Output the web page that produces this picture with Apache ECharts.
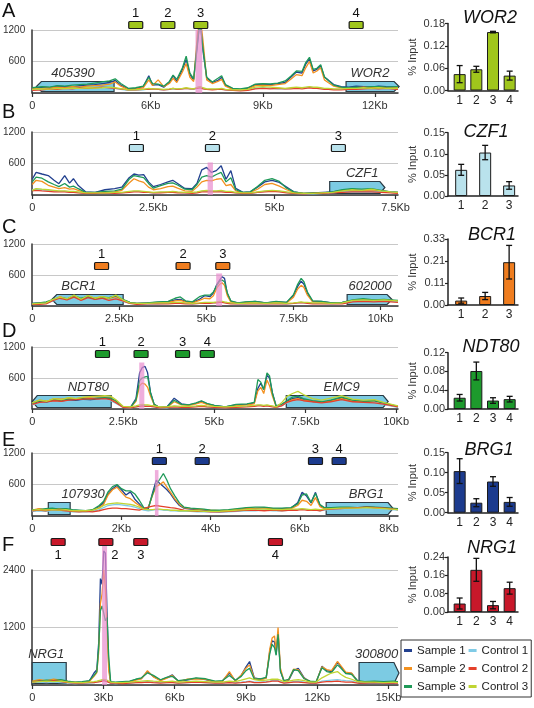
<!DOCTYPE html>
<html><head><meta charset="utf-8">
<script src="https://cdn.jsdelivr.net/npm/echarts@6/dist/echarts.min.js"></script>
<style>html,body{margin:0;padding:0;background:#fff}#c{width:534px;height:708px}</style>
</head><body><div id="c"></div>
<script>
// ---------- DATA ----------
// trace rows: [position kb, Sample 1, Sample 2, Sample 3, Control 1, Control 2, Control 3]
const tracesA = [
[2.83,90,80,100,60,50,70],[3.1,110,90,120,70,60,80],[3.3,100,100,110,65,80,75],[3.5,130,110,140,80,70,90],
[3.7,120,100,130,70,90,85],[3.9,110,120,150,75,80,95],[4.1,140,110,160,80,100,90],[4.3,150,130,170,85,90,100],
[4.5,160,140,190,80,100,95],[4.7,180,150,210,90,110,100],[4.9,200,170,230,95,100,110],[5.05,240,210,270,90,90,100],
[5.2,150,130,180,70,80,85],[5.4,80,70,90,50,60,60],[5.6,90,80,100,55,60,65],[5.8,120,100,130,60,70,70],
[5.95,330,250,300,80,70,90],[6.05,150,140,180,70,80,80],[6.2,160,250,170,70,70,80],[6.35,110,120,130,60,60,70],
[6.5,200,180,220,70,70,80],[6.6,330,280,340,80,90,90],[6.7,220,200,260,70,70,80],[6.85,450,400,480,80,80,90],
[6.95,640,560,700,90,90,100],[7.05,350,300,380,80,80,90],[7.15,250,220,270,70,80,80],[7.25,900,1100,950,100,90,110],
[7.32,1400,1500,1400,120,100,120],[7.4,800,1000,850,90,80,100],[7.5,280,250,300,70,70,80],[7.65,200,180,210,70,60,80],
[7.8,240,220,280,70,70,80],[7.9,300,260,330,80,70,90],[8.0,150,130,160,60,60,70],[8.2,80,70,90,50,50,60],
[8.4,70,60,80,50,40,60],[8.6,90,80,100,60,50,70],[8.8,160,140,170,90,80,110],[9.0,170,150,180,100,90,120],
[9.2,160,140,175,90,80,110],[9.4,180,160,190,80,90,100],[9.6,200,180,230,80,80,90],[9.75,300,260,320,90,80,100],
[9.9,400,350,420,100,90,110],[10.05,380,330,410,90,80,100],[10.15,550,480,580,100,90,110],[10.25,650,600,680,110,100,120],
[10.35,420,380,450,100,90,110],[10.45,450,420,470,100,90,110],[10.55,520,480,540,90,80,100],[10.65,300,250,310,80,70,90],
[10.75,250,200,240,80,70,90],[10.9,160,130,150,70,60,80],[11.1,120,100,110,70,60,80],[11.3,110,90,100,80,70,90],
[11.5,130,100,110,80,70,90],[11.7,120,110,100,90,80,100],[11.9,110,100,120,80,90,90],[12.1,130,110,120,90,80,100],
[12.3,120,100,110,80,90,90],[12.62,110,100,120,80,70,90]
];
const tracesB = [
[0,300,200,250,100,80,90],[0.08,430,280,340,110,90,120],[0.2,400,260,320,100,80,110],[0.33,370,185,250,90,70,100],
[0.45,280,150,200,80,60,90],[0.55,215,120,160,70,60,80],[0.67,370,140,220,70,60,80],[0.77,225,110,150,60,50,70],
[0.85,310,120,170,60,50,70],[0.95,180,90,120,50,40,60],[1.1,60,40,50,30,30,40],[1.3,50,40,50,30,30,40],
[1.5,100,50,70,30,40,40],[1.7,120,60,80,40,30,50],[1.85,150,90,110,40,40,50],[2.0,330,230,300,60,50,70],
[2.1,400,310,370,70,60,80],[2.2,380,270,350,70,60,80],[2.3,390,240,330,60,50,70],[2.4,250,150,220,50,50,60],
[2.5,160,100,130,40,40,50],[2.65,200,120,180,50,40,60],[2.8,250,160,220,50,50,60],[2.9,280,170,230,60,50,70],
[3.0,220,130,190,50,40,60],[3.15,125,80,110,40,40,50],[3.3,120,70,100,40,30,50],[3.4,220,150,200,50,40,60],
[3.5,480,250,340,70,60,80],[3.6,525,280,370,80,60,90],[3.7,430,270,340,70,60,80],[3.8,465,300,390,70,60,80],
[3.9,557,310,430,80,60,90],[4.0,300,180,250,60,50,70],[4.1,465,200,330,60,50,70],[4.2,125,80,100,40,40,50],
[4.35,50,40,50,30,30,40],[4.5,60,50,60,30,30,40],[4.65,150,110,160,50,50,60],[4.8,250,200,280,70,60,80],
[4.95,280,220,310,80,70,90],[5.1,240,170,260,70,60,80],[5.25,150,100,130,50,40,60],[5.4,60,50,60,30,30,40],
[5.6,30,30,30,20,20,30],[5.8,40,30,40,20,30,30],[6.0,50,40,40,30,30,40],[6.2,60,50,60,40,40,50],
[6.4,90,70,100,60,50,80],[6.6,110,90,120,70,60,100],[6.8,90,80,110,60,60,90],[7.0,100,90,120,70,60,110],
[7.2,80,70,90,60,50,80],[7.4,60,50,60,50,40,60],[7.55,50,40,50,40,30,50]
];
const tracesC = [
[0,50,40,50,30,30,40],[0.2,60,50,60,40,30,50],[0.4,70,60,80,50,40,60],[0.6,110,120,130,100,110,130],
[0.8,150,180,160,140,150,170],[1.0,120,130,140,110,120,140],[1.2,180,190,200,160,170,210],[1.4,130,120,150,100,110,130],
[1.6,170,200,180,150,160,200],[1.8,120,150,140,110,130,150],[2.0,160,180,170,130,150,180],[2.2,140,130,160,120,110,150],
[2.4,180,170,200,150,140,210],[2.6,120,110,130,90,100,120],[2.8,70,60,70,50,50,60],[3.0,50,40,50,40,30,50],
[3.3,60,50,60,40,40,50],[3.6,70,60,80,40,40,60],[3.9,80,70,90,50,40,60],[4.1,120,100,150,50,50,70],
[4.25,130,110,175,60,50,70],[4.4,90,80,100,50,40,60],[4.6,70,60,80,40,40,50],[4.8,130,110,180,50,50,60],
[4.95,200,150,210,60,50,70],[5.1,180,140,210,60,50,70],[5.2,250,200,270,60,60,70],[5.3,420,350,400,70,60,80],
[5.38,500,420,480,80,70,90],[5.45,567,450,500,80,70,90],[5.52,535,400,470,70,60,80],[5.6,240,200,250,60,50,70],
[5.7,90,80,100,50,40,60],[5.9,60,50,60,40,40,50],[6.1,70,60,80,40,40,50],[6.4,90,70,90,50,40,60],
[6.7,60,50,60,40,40,50],[7.0,80,70,90,50,40,60],[7.3,70,60,70,40,40,50],[7.5,200,170,220,50,50,60],
[7.62,380,330,420,60,60,70],[7.72,480,400,535,70,60,80],[7.8,420,360,470,60,60,70],[7.9,250,210,270,60,50,70],
[8.05,90,80,100,50,40,60],[8.3,90,70,90,50,40,60],[8.6,60,50,60,40,40,50],[8.9,70,60,70,50,40,60],
[9.2,110,100,120,90,80,110],[9.5,130,120,140,100,90,120],[9.8,110,100,120,90,80,110],[10.1,120,110,130,100,90,120],
[10.5,100,90,110,80,70,100]
];
const tracesD = [
[0,100,120,110,80,90,120],[0.2,150,170,160,120,130,170],[0.4,130,150,140,110,140,150],[0.6,180,200,170,140,160,200],
[0.8,150,190,160,130,150,180],[1.0,170,210,190,150,170,220],[1.2,160,200,180,140,180,200],[1.4,180,220,200,160,190,230],
[1.6,170,230,190,150,200,240],[1.8,200,240,210,160,190,250],[2.0,210,230,220,170,200,260],[2.15,200,220,210,160,180,250],
[2.3,150,140,160,110,120,180],[2.5,40,30,40,30,30,50],[2.7,30,30,30,20,20,40],[2.85,200,150,170,40,40,60],
[2.95,700,450,550,60,50,80],[3.02,800,500,600,70,60,90],[3.1,825,480,620,60,50,80],[3.17,700,420,630,60,50,80],
[3.25,320,250,310,50,50,70],[3.35,90,80,90,40,40,60],[3.5,30,30,30,20,20,40],[3.7,40,30,40,20,30,40],
[3.9,210,140,170,50,40,60],[4.1,100,80,90,40,30,50],[4.3,80,70,80,40,30,50],[4.5,110,100,120,50,40,60],
[4.65,150,130,160,60,50,70],[4.8,100,90,110,40,40,60],[5.0,70,60,70,30,30,50],[5.3,40,30,40,20,20,40],
[5.6,80,60,90,40,30,50],[5.9,90,80,100,50,40,60],[6.1,120,100,130,60,50,70],[6.2,400,350,570,70,60,80],
[6.28,500,420,520,70,60,80],[6.36,380,300,375,60,50,70],[6.45,650,560,700,70,60,80],[6.52,600,450,640,60,50,70],
[6.6,310,250,300,50,40,60],[6.7,60,50,60,30,30,40],[6.85,80,70,90,60,60,120],[7.0,150,130,160,120,130,245],
[7.15,200,180,230,150,160,300],[7.3,220,200,250,170,180,340],[7.45,180,170,200,150,160,280],[7.7,140,150,160,120,140,200],
[7.95,120,130,140,110,120,170],[8.2,160,150,170,130,140,210],[8.5,210,200,230,160,180,260],[8.8,150,160,170,130,140,190],
[9.1,130,140,150,120,130,170],[9.4,150,140,160,130,120,180],[9.7,100,90,110,80,90,120],[10.05,50,40,50,30,40,60]
];
const tracesE = [
[0,100,110,120,90,100,110],[0.15,130,140,120,100,110,120],[0.3,110,120,140,90,100,110],[0.45,140,130,150,100,120,120],
[0.6,120,140,130,90,110,110],[0.75,130,120,140,100,100,120],[0.9,110,100,120,80,90,100],[1.05,100,90,110,80,80,100],
[1.2,90,100,100,80,90,100],[1.35,110,100,120,90,80,110],[1.5,180,160,200,120,100,150],[1.6,250,220,280,160,120,200],
[1.7,420,400,460,200,140,230],[1.8,520,500,560,210,150,240],[1.9,580,550,600,220,150,250],[2.0,500,450,520,210,140,240],
[2.1,400,360,480,200,140,230],[2.2,460,330,480,190,130,220],[2.3,320,260,420,170,120,200],[2.4,230,200,300,140,110,170],
[2.5,140,130,160,110,140,130],[2.6,130,160,150,100,170,120],[2.7,450,400,420,110,190,120],[2.78,680,560,600,120,200,130],
[2.86,620,600,700,120,190,130],[2.94,560,650,810,110,180,120],[3.02,500,550,680,110,170,120],[3.1,420,450,520,100,160,110],
[3.2,300,320,380,100,150,110],[3.3,200,220,250,90,130,100],[3.4,150,160,170,90,110,100],[3.55,130,140,150,90,100,100],
[3.7,120,130,140,80,90,100],[3.85,110,120,130,80,90,90],[4.0,100,110,110,80,80,90],[4.2,90,100,110,70,80,90],
[4.4,100,110,120,80,90,100],[4.6,120,130,140,90,100,110],[4.8,150,140,160,100,110,120],[5.0,140,150,170,100,110,130],
[5.2,160,150,170,110,100,130],[5.4,130,140,150,100,110,120],[5.6,140,130,150,100,100,120],[5.8,150,140,160,110,110,130],
[5.95,250,200,230,120,110,130],[6.05,450,300,400,130,120,140],[6.15,380,280,420,120,110,130],[6.25,250,200,260,110,110,120],
[6.35,450,350,430,120,110,130],[6.45,200,180,220,100,100,120],[6.55,150,140,160,110,120,130],[6.7,140,150,160,120,130,140],
[6.9,150,140,170,130,140,150],[7.1,160,150,170,130,150,150],[7.3,150,160,160,140,160,150],[7.5,170,150,180,140,170,160],
[7.7,160,160,170,130,160,150],[7.9,150,140,160,130,150,140],[8.2,130,120,140,110,120,120]
];
const tracesF = [
[0,60,80,70,50,60,60],[0.3,90,110,80,60,80,70],[0.6,70,90,100,50,70,80],[0.9,100,120,90,60,90,70],
[1.2,80,100,110,50,70,80],[1.5,60,70,80,40,50,60],[1.8,50,60,60,30,40,50],[2.1,60,50,70,40,40,50],
[2.4,80,70,90,40,50,60],[2.6,250,180,200,50,50,70],[2.72,320,260,280,60,60,80],[2.8,900,700,800,70,60,90],
[2.87,2220,1700,1550,80,70,100],[2.94,2100,1900,1650,90,80,110],[3.01,2800,2400,1500,100,90,120],[3.08,2750,2000,1340,90,80,110],
[3.15,1500,1200,1410,80,70,100],[3.22,400,300,600,60,60,80],[3.3,60,50,70,40,40,60],[3.5,50,40,60,30,40,50],
[3.8,60,50,70,40,30,50],[4.1,70,60,80,40,40,60],[4.35,110,100,120,50,50,70],[4.6,140,130,150,60,50,80],
[4.85,280,300,250,70,60,90],[5.1,180,170,200,60,50,80],[5.4,100,90,110,50,40,70],[5.65,150,140,160,50,50,70],
[5.9,210,200,180,60,50,80],[6.15,80,70,90,40,40,60],[6.5,100,120,110,50,50,70],[6.9,140,130,150,60,60,80],
[7.3,110,120,130,50,50,70],[7.7,60,70,80,40,40,60],[8.0,80,70,90,40,40,60],[8.3,250,280,200,60,50,80],
[8.55,90,80,100,50,40,70],[8.8,200,210,180,60,50,100],[9.0,380,350,300,70,60,130],[9.15,490,420,350,80,70,150],
[9.35,150,140,120,60,50,110],[9.6,120,110,130,60,50,90],[9.85,150,140,160,70,60,100],[10.0,700,750,650,80,70,110],
[10.1,920,980,850,90,80,120],[10.2,900,1025,780,90,80,120],[10.27,640,700,620,80,70,110],[10.35,1100,1200,1060,90,80,120],
[10.45,300,350,280,70,60,100],[10.6,70,80,90,50,40,70],[10.8,100,110,120,50,50,80],[11.0,300,330,320,70,60,100],
[11.2,350,320,300,80,60,110],[11.45,150,140,130,60,50,90],[11.7,60,70,80,40,40,60],[11.95,50,60,70,40,40,60],
[12.2,390,380,360,80,60,150],[12.4,300,320,280,90,70,200],[12.6,280,300,260,100,70,250],[12.85,480,490,420,110,80,280],
[13.0,380,400,350,100,70,220],[13.2,250,270,240,90,60,160],[13.45,240,250,220,80,60,120],[13.7,80,70,90,50,40,70],
[14.0,60,70,70,40,40,60],[14.4,70,60,80,40,50,60],[14.8,60,70,70,40,40,50],[15.2,70,60,80,40,40,60],[15.4,60,50,70,40,40,50]
];

// x-axis tick positions (kb) and tick labels
const tickValsA = [2.83, 6, 9, 12],      tickTextA = ['0','6Kb','9Kb','12Kb'];
const tickValsB = [0, 2.5, 5, 7.5],      tickTextB = ['0','2.5Kb','5Kb','7.5Kb'];
const tickValsC = [0, 2.5, 5, 7.5, 10],  tickTextC = ['0','2.5Kb','5Kb','7.5Kb','10Kb'];
const tickValsD = [0, 2.5, 5, 7.5, 10],  tickTextD = ['0','2.5Kb','5Kb','7.5Kb','10Kb'];
const tickValsE = [0, 2, 4, 6, 8],       tickTextE = ['0','2Kb','4Kb','6Kb','8Kb'];
const tickValsF = [0, 3, 6, 9, 12, 15],  tickTextF = ['0','3Kb','6Kb','9Kb','12Kb','15Kb'];

// primer (amplicon) positions, kb
const primersA = [5.60, 6.46, 7.34, 11.5];
const primersB = [2.15, 3.72, 6.32];
const primersC = [1.99, 4.33, 5.47];
const primersD = [1.93, 2.99, 4.13, 4.81];
const primersE = [2.85, 3.81, 6.35, 6.88];
const primersF = [1.09, 3.10, 4.57, 10.24];

// genes: [name, start kb, end kb, strand (-1 left, 1 right, 0 none), label position kb]
const genesA = [['405390',2.94,5.02,-1,3.92],['WOR2',11.23,12.65,1,11.87]];
const genesB = [['CZF1',6.14,7.28,1,6.81]];
const genesC = [['BCR1',0.56,2.61,-1,1.33],['602000',9.04,10.33,1,9.7]];
const genesD = [['NDT80',0,2.17,-1,1.54],['EMC9',6.98,9.78,1,8.5]];
const genesE = [['107930',0.36,0.85,0,1.14],['BRG1',6.59,8.09,1,7.49]];
const genesF = [['NRG1',0,1.43,0,0.59],['300800',13.76,15.44,1,14.5]];

// motif highlight: [start kb, end kb, height]
const pinkA = [7.20, 7.38, 1200];
const pinkB = [3.62, 3.73, 620];
const pinkC = [5.28, 5.45, 630];
const pinkD = [2.94, 3.08, 900];
const pinkE = [2.75, 2.83, 875];
const pinkF = [2.94, 3.15, 2900];

// ChIP-qPCR % input, with error
const catsA = ['1','2','3','4'], barA = [0.044,0.057,0.157,0.040], errA = [0.023,0.008,0.002,0.012];
const catsB = ['1','2','3'],     barB = [0.062,0.103,0.025],       errB = [0.013,0.017,0.009];
const catsC = ['1','2','3'],     barC = [0.022,0.045,0.214],       errC = [0.013,0.018,0.084];
const catsD = ['1','2','3','4'], barD = [0.024,0.081,0.018,0.021], errD = [0.007,0.019,0.006,0.006];
const catsE = ['1','2','3','4'], barE = [0.104,0.025,0.078,0.027], errE = [0.031,0.010,0.012,0.011];
const catsF = ['1','2','3','4'], barF = [0.037,0.184,0.030,0.104], errF = [0.024,0.050,0.016,0.026];
const barMaxA = 0.18, barMaxB = 0.15, barMaxC = 0.33, barMaxD = 0.12, barMaxE = 0.15, barMaxF = 0.24;
const barTickTextC = ['0.00','0.11','0.21','0.33'];
const geneTitles = ['WOR2','CZF1','BCR1','NDT80','BRG1','NRG1'];
const panelLetters = ['A','B','C','D','E','F'];
const traceNames = ['Sample 1','Sample 2','Sample 3','Control 1','Control 2','Control 3'];

// ---------- LAYOUT / STYLE ----------
const FONT = '"Liberation Sans", Arial, sans-serif';
const traceColors = ['#22408f','#f3911f','#1f9a58','#80cbe6','#e4402b','#c0d532'];
const panelColors = ['#a0c61c','#b9e2ec','#ef7d1f','#1d9a2c','#1c3b8e','#c8182a'];
const lineGrids = [{t:30,h:63},{t:132,h:63},{t:244,h:62},{t:347,h:62},{t:453,h:63},{t:570,h:115}];
const barGrids = [{t:23.5,h:67},{t:132.7,h:63.3},{t:239,h:66},{t:352.7,h:56.3},{t:452.7,h:60},{t:557,h:55}];
const xRanges = [[2.83,12.62],[0,7.55],[0,10.5],[0,10.05],[0,8.2],[0,15.4]];
const yMaxes = [1200,1200,1200,1200,1200,2400];
const primerOffset = [-5,16,22,7,8,-28];   // px from grid top
const primerLabelBelow = [false,false,false,false,false,true];
const primerLabelShift = [[0,0,0,0],[0,0,0],[0,0,0],[0,0,0,0],[0,0,0,0],[0,9,0,0]];
const geneH = [10,12,10,12,12,21];
const letterY = [11,112,227,331,440,545];
const titlePos = [[490,18],[486,132],[492,235],[491,347],[489,450],[492,548]];

const P = [
 {rows:tracesA,tv:tickValsA,tt:tickTextA,pr:primersA,ge:genesA,pk:pinkA,cats:catsA,bar:barA,err:errA,bmax:barMaxA},
 {rows:tracesB,tv:tickValsB,tt:tickTextB,pr:primersB,ge:genesB,pk:pinkB,cats:catsB,bar:barB,err:errB,bmax:barMaxB},
 {rows:tracesC,tv:tickValsC,tt:tickTextC,pr:primersC,ge:genesC,pk:pinkC,cats:catsC,bar:barC,err:errC,bmax:barMaxC},
 {rows:tracesD,tv:tickValsD,tt:tickTextD,pr:primersD,ge:genesD,pk:pinkD,cats:catsD,bar:barD,err:errD,bmax:barMaxD},
 {rows:tracesE,tv:tickValsE,tt:tickTextE,pr:primersE,ge:genesE,pk:pinkE,cats:catsE,bar:barE,err:errE,bmax:barMaxE},
 {rows:tracesF,tv:tickValsF,tt:tickTextF,pr:primersF,ge:genesF,pk:pinkF,cats:catsF,bar:barF,err:errF,bmax:barMaxF}
];

const grid = [], xAxis = [], yAxis = [], series = [];
P.forEach((d,p)=>{
  const g = lineGrids[p];
  grid.push({left:30, top:g.t, width:368, height:g.h});
  xAxis.push({type:'value', gridIndex:p, min:xRanges[p][0], max:xRanges[p][1],
    axisLine:{show:true, lineStyle:{color:'#333', width:1.5}},
    axisTick:{show:true, customValues:d.tv, length:4, lineStyle:{color:'#333', width:1.2}},
    axisLabel:{customValues:d.tv, fontSize:11, color:'#333', margin:7, fontFamily:FONT,
      formatter:(v)=>{const i=d.tv.findIndex(t=>Math.abs(t-v)<1e-6); return i>=0?d.tt[i]:'';}},
    splitLine:{show:false}});
  yAxis.push({type:'value', gridIndex:p, min:0, max:yMaxes[p], interval:yMaxes[p]/2,
    axisLine:{show:true, lineStyle:{color:'#333', width:1.5}}, axisTick:{show:false},
    axisLabel:{fontSize:10, color:'#333', margin:7, fontFamily:FONT, formatter:(v)=>v===0?'':String(v)},
    splitLine:{show:true, lineStyle:{color:'#c8c8c8', width:1}}});
});
P.forEach((d,p)=>{
  const g = barGrids[p];
  const n = d.bar.length;
  grid.push({left:448, top:g.t, width:70, height:g.h});
  const xmin = n===4?0.3:0.45, xmax = n===4?4.5:3.37;
  const cv = d.cats.map((c,i)=>i+1);
  xAxis.push({type:'value', gridIndex:6+p, min:xmin, max:xmax,
    axisLine:{show:true, lineStyle:{color:'#222', width:1.5}}, axisTick:{show:false},
    axisLabel:{customValues:cv, fontSize:12, color:'#222', margin:4, fontFamily:FONT,
      formatter:(v)=>d.cats[Math.round(v)-1]||''},
    splitLine:{show:false}});
  yAxis.push({type:'value', gridIndex:6+p, min:0, max:d.bmax, interval:d.bmax/3,
    name:'% Input', nameLocation:'middle', nameRotate:90, nameGap:30,
    nameTextStyle:{fontSize:11, color:'#333', fontFamily:FONT},
    axisLine:{show:true, lineStyle:{color:'#222', width:1.5}},
    axisTick:{show:true, length:3, lineStyle:{color:'#222', width:1.2}},
    axisLabel:{fontSize:11, color:'#333', margin:3, fontFamily:FONT,
      formatter:(v)=> p===2 ? barTickTextC[Math.round(v/0.11)] : v.toFixed(2)},
    splitLine:{show:false}});
});

P.forEach((d,p)=>{
  // gene boxes
  series.push({type:'custom', xAxisIndex:p, yAxisIndex:p, z:1, silent:true,
    data:d.ge.map(g=>[g[1],g[2],g[3],g[4]]),
    renderItem:(params,api)=>{
      const gg = d.ge[params.dataIndex];
      const a = api.coord([api.value(0),0]), b = api.coord([api.value(1),0]);
      const yb = a[1]-1.5, yt = yb-geneH[p], ym=(yt+yb)/2, x0=a[0], x1=b[0], t=5, dir=api.value(2);
      let pts;
      if (dir>0) pts=[[x0,yt],[x1-t,yt],[x1,ym],[x1-t,yb],[x0,yb]];
      else if (dir<0) pts=[[x0+t,yt],[x1,yt],[x1,yb],[x0+t,yb],[x0,ym]];
      else pts=[[x0,yt],[x1,yt],[x1,yb],[x0,yb]];
      const lx = api.coord([api.value(3),0])[0];
      return {type:'group', children:[
        {type:'polygon', shape:{points:pts}, style:{fill:'#7ccbe3', stroke:'#2a3a44', lineWidth:1.2}},
        {type:'text', x:lx, y:yt-2, style:{text:gg[0], align:'center', verticalAlign:'bottom',
          font:'italic 13px '+FONT, fill:'#333'}}
      ]};
    }});
  // traces
  traceNames.forEach((nm,k)=>{
    series.push({type:'line', name:nm, xAxisIndex:p, yAxisIndex:p, z:3, silent:true,
      data:d.rows.map(r=>[r[0], r[k+1]]), symbol:'none', showSymbol:false,
      clip: p!==5, lineStyle:{width:1.3, color:traceColors[k]}, itemStyle:{color:traceColors[k]}});
  });
  // pink highlight
  series.push({type:'custom', xAxisIndex:p, yAxisIndex:p, z:4, silent:true, data:[d.pk],
    renderItem:(params,api)=>{
      const a = api.coord([api.value(0), api.value(2)]), b = api.coord([api.value(1), 0]);
      return {type:'rect', shape:{x:a[0], y:a[1], width:b[0]-a[0], height:b[1]-a[1]},
        style:{fill:'rgba(232,140,205,0.7)'}};
    }});
  // primers
  series.push({type:'custom', xAxisIndex:p, yAxisIndex:p, z:5, silent:true,
    data:d.pr.map((x,i)=>[x,i]),
    renderItem:(params,api)=>{
      const i = params.dataIndex;
      const cx = api.coord([api.value(0),0])[0];
      const cy = params.coordSys.y + primerOffset[p];
      const ly = primerLabelBelow[p] ? cy+13 : cy-12;
      return {type:'group', children:[
        {type:'rect', shape:{x:cx-7, y:cy-3.5, width:14, height:7, r:1},
          style:{fill:panelColors[p], stroke:'#1a1a1a', lineWidth:1.2}},
        {type:'text', x:cx+primerLabelShift[p][i], y:ly, style:{text:String(i+1), align:'center',
          verticalAlign:'middle', font:'13px '+FONT, fill:'#111'}}
      ]};
    }});
  // bars
  series.push({type:'bar', xAxisIndex:6+p, yAxisIndex:6+p, silent:true, barWidth:12,
    data:d.bar.map((v,i)=>[i+1,v]),
    itemStyle:{color:panelColors[p], borderColor:'#1b1b1b', borderWidth:1}});
  series.push({type:'custom', xAxisIndex:6+p, yAxisIndex:6+p, z:5, silent:true,
    data:d.bar.map((v,i)=>[i+1,v,d.err[i]]),
    renderItem:(params,api)=>{
      const x=api.value(0), v=api.value(1), e=api.value(2);
      const t=api.coord([x,v+e]), b=api.coord([x,Math.max(0,v-e)]), w=3;
      const st={stroke:'#111', lineWidth:1.3};
      return {type:'group', children:[
        {type:'line', shape:{x1:t[0],y1:t[1],x2:b[0],y2:b[1]}, style:st},
        {type:'line', shape:{x1:t[0]-w,y1:t[1],x2:t[0]+w,y2:t[1]}, style:st},
        {type:'line', shape:{x1:b[0]-w,y1:b[1],x2:b[0]+w,y2:b[1]}, style:st}
      ]};
    }});
});

const graphic = [];
panelLetters.forEach((L,i)=>graphic.push({type:'text', x:2, y:letterY[i],
  style:{text:L, font:'20px '+FONT, fill:'#111', align:'left', verticalAlign:'middle'}}));
geneTitles.forEach((t,i)=>graphic.push({type:'text', x:titlePos[i][0], y:titlePos[i][1],
  style:{text:t, font:'italic 18px '+FONT, fill:'#111', align:'center', verticalAlign:'middle'}}));

const chart = echarts.init(document.getElementById('c'), null, {renderer:'canvas'});
chart.setOption({
  animation:false,
  backgroundColor:'#fff',
  textStyle:{fontFamily:FONT},
  grid, xAxis, yAxis, series, graphic,
  legend:{data:['Sample 1','Control 1','Sample 2','Control 2','Sample 3','Control 3'],
    left:401, top:640, width:125, orient:'horizontal', icon:'rect', itemWidth:8, itemHeight:3,
    itemGap:3, padding:[3,3,3,3], borderColor:'#333', borderWidth:1, selectedMode:false,
    textStyle:{fontSize:11.5, color:'#222', lineHeight:15, fontFamily:FONT}}
});
</script></body></html>
